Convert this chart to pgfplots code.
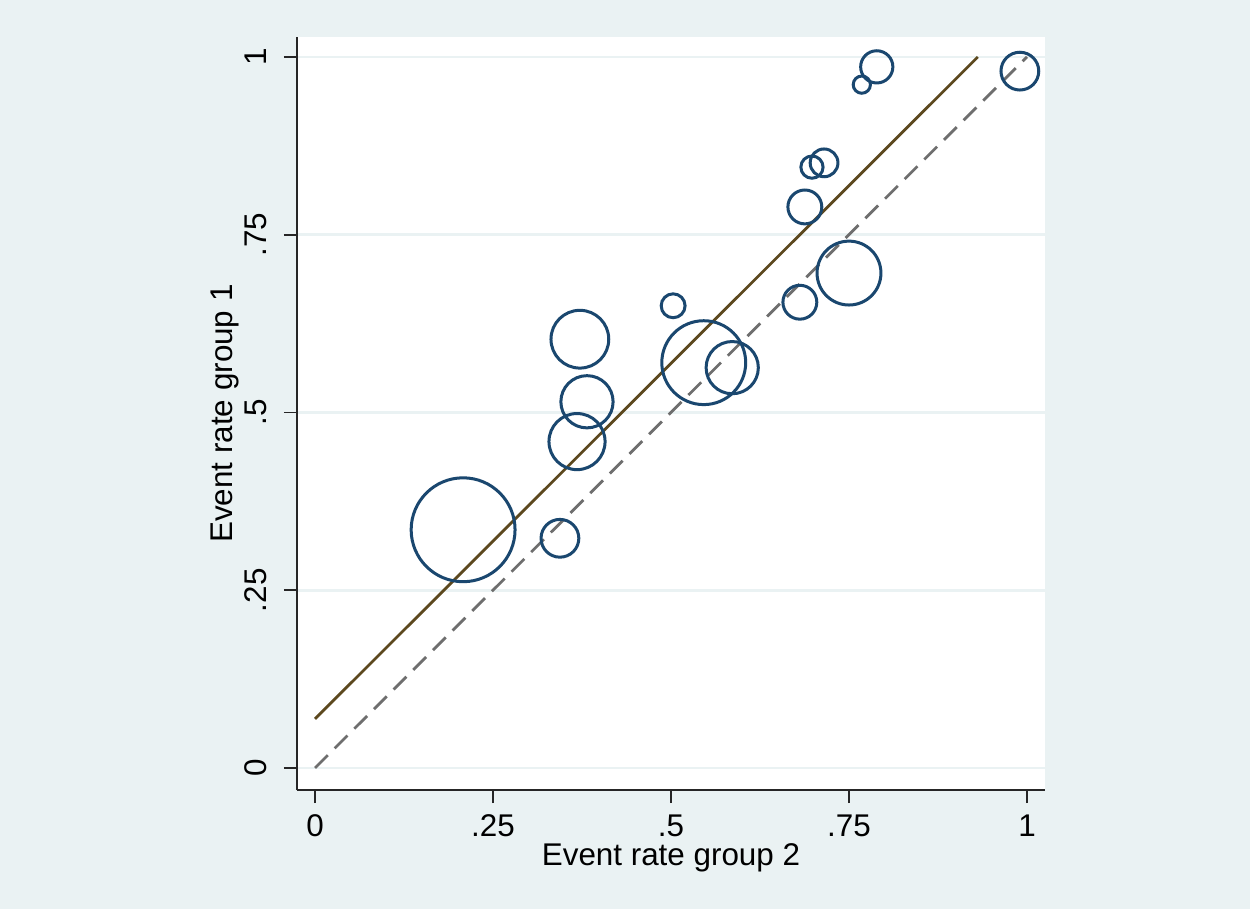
\documentclass[border=0pt]{standalone}
\usepackage{fontspec}
\setmainfont{Liberation Sans}
\usepackage{pgfplots}
\pgfplotsset{compat=1.18}
\usepackage{pgfplotstable}

\definecolor{bgcol}{RGB}{234,242,243}
\definecolor{navy}{RGB}{26,71,111}
\definecolor{fitcol}{RGB}{92,72,30}
\definecolor{refcol}{RGB}{110,110,110}

% x = rate group 2, y = rate group 1, r = bubble radius (pt)
\pgfplotstableread{
x y r
0.208 0.335 18.7
0.344 0.323 6.8
0.372 0.603 10.4
0.382 0.515 9.4
0.368 0.459 10.1
0.503 0.650 4.3
0.546 0.570 15.1
0.586 0.563 9.4
0.789 0.986 5.8
0.768 0.961 3.1
0.715 0.851 5.0
0.698 0.845 4.0
0.688 0.789 6.1
0.750 0.696 11.5
0.681 0.655 6.1
0.990 0.980 6.8
}\studies

\begin{document}
\begin{tikzpicture}
\fill[bgcol] (0,0) rectangle (450pt,327.24pt);
\begin{axis}[
  at={(106.92pt,42.84pt)}, anchor=south west,
  scale only axis, width=269.28pt, height=271.08pt,
  xmin=-0.0253, xmax=1.0253, ymin=-0.031, ymax=1.028,
  axis x line*=bottom, axis y line*=left,
  axis line style={-, black!85, line width=0.7pt},
  axis background/.style={fill=white},
  tick align=outside, major tick length=4.7pt,
  tick style={black!85, line width=0.6pt},
  xtick={0,.25,.5,.75,1}, xticklabels={0,.25,.5,.75,1},
  ytick={0,.25,.5,.75,1}, yticklabels={0,.25,.5,.75,1},
  ymajorgrids, grid style={bgcol, line width=1pt},
  font=\fontsize{11.3}{13}\selectfont,
  xticklabel style={anchor=north, inner sep=0pt},
  yticklabel style={rotate=90, anchor=south, inner sep=0pt},
  xticklabel shift=4pt, yticklabel shift=6.1pt,
  xlabel={Event rate group 2}, ylabel={Event rate group 1},
  xlabel style={at={(axis description cs:0.5,-0.0996)}, anchor=base},
  ylabel style={at={(axis description cs:-0.0869,0.5)}, anchor=base},
]
\addplot[scatter, only marks, mark=o, line width=1.08pt,
  scatter/use mapped color={draw=navy, fill=none},
  visualization depends on={\thisrow{r} \as \rad},
  scatter/@pre marker code/.append style={/tikz/mark size=\rad pt}]
  table[x=x, y=y] {\studies};
\addplot[fitcol, line width=1pt, no marks] coordinates {(0,0.069) (0.931,1)};
\addplot[refcol, line width=1pt, no marks, dash pattern=on 6.5pt off 3.5pt] coordinates {(0,0) (1,1)};
\end{axis}
\end{tikzpicture}
\end{document}
